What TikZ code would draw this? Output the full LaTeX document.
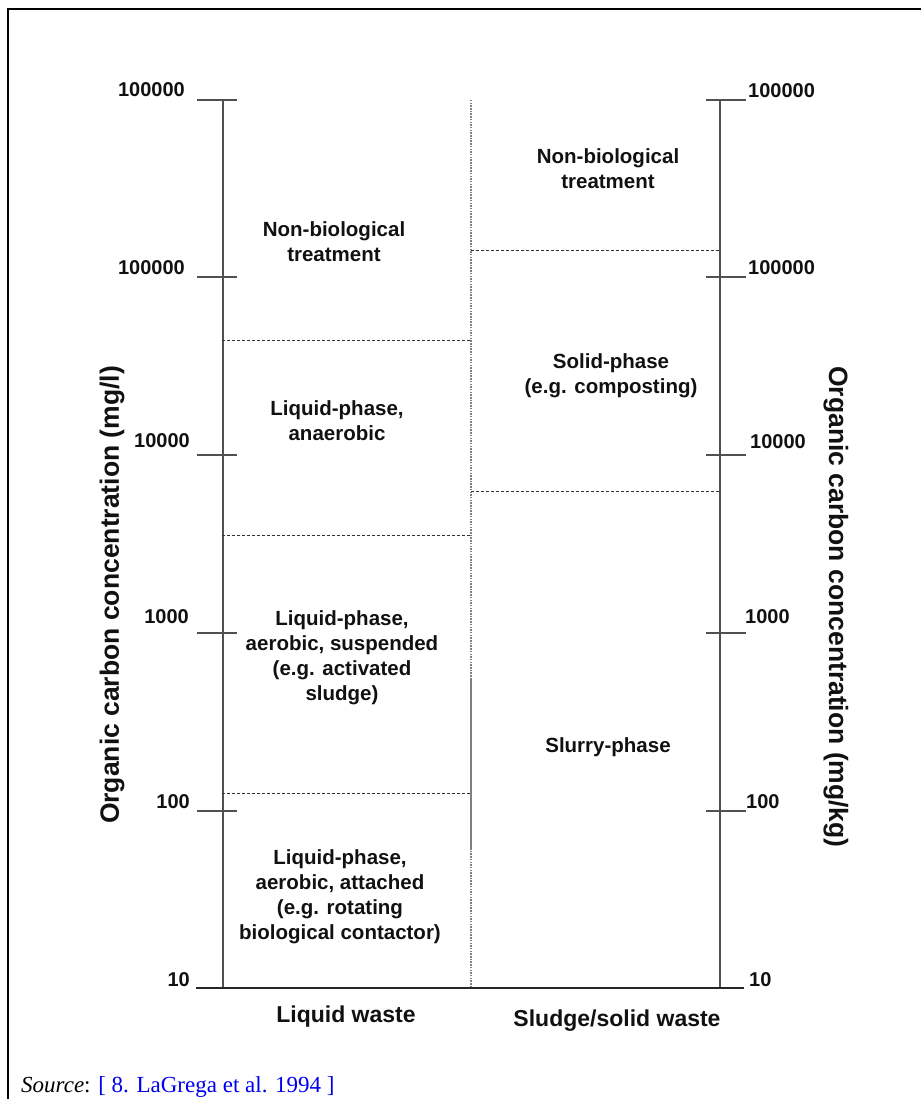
\documentclass[tikz,border=0pt]{standalone}
\usepackage{fontspec}
\setmainfont{Liberation Sans}
\newfontfamily\srcfont{Liberation Serif}
\definecolor{axisgray}{HTML}{505050}
\definecolor{txt}{HTML}{111111}
\definecolor{linkblue}{HTML}{0000EE}
\begin{document}
\begin{tikzpicture}[x=1pt,y=-1pt,
  region/.style={font=\fontsize{20.5}{25}\selectfont\bfseries, align=center, inner sep=0pt, text=txt},
  ticklbl/.style={font=\fontsize{20}{24}\selectfont\bfseries, inner sep=0pt, text=txt},
  bottomlbl/.style={font=\fontsize{23}{27}\selectfont\bfseries, inner sep=0pt, text=txt},
  axistitle/.style={font=\fontsize{26.5}{30}\selectfont\bfseries, inner sep=0pt, text=txt},
  axisline/.style={draw=axisgray, line width=1.4pt},
  tickline/.style={draw=axisgray, line width=1.3pt},
  boundary/.style={draw=black!80, line width=1pt, dash pattern=on 3pt off 2pt},
  midline/.style={draw=gray, line width=1.3pt, dash pattern=on 1.5pt off 1.2pt},
  midsolid/.style={draw=gray, line width=1.4pt},
  frameline/.style={draw=black, line width=2.2pt}
]
\useasboundingbox (0,0) rectangle (920,1099);
\fill[white] (0,0) rectangle (920,1099);

% frame (top and left edges)
\coordinate (fTL) at (8,9);
\coordinate (fTR) at (921,9);
\coordinate (fBL) at (8,1100);
\draw[frameline] (fBL) -- (fTL) -- (fTR);

% axes
\coordinate (Ltop) at (223,100);
\coordinate (Lbot) at (223,988);
\coordinate (Rtop) at (720,100);
\coordinate (Rbot) at (720,988);
\draw[axisline] (Ltop) -- (Lbot);
\draw[axisline] (Rtop) -- (Rbot);

% baseline
\coordinate (baseL) at (196,988);
\coordinate (baseR) at (744,988);
\draw[draw=black!85, line width=1.4pt] (baseL) -- (baseR);

% ticks
\foreach \y/\n in {100/a,277/b,455/c,633/d,811/e}{
  \coordinate (lt\n1) at (197,\y);
  \coordinate (lt\n2) at (237,\y);
  \coordinate (rt\n1) at (706,\y);
  \coordinate (rt\n2) at (746,\y);
  \draw[tickline] (lt\n1) -- (lt\n2);
  \draw[tickline] (rt\n1) -- (rt\n2);
}

% middle line
\coordinate (Mtop) at (471,100);
\coordinate (Ms1) at (471,678);
\coordinate (Ms2) at (471,848);
\coordinate (Mbot) at (471,988);
\draw[midline] (Mtop) -- (Ms1);
\draw[midsolid] (Ms1) -- (Ms2);
\draw[midline] (Ms2) -- (Mbot);

% boundaries left
\coordinate (b1a) at (222,340); \coordinate (b1b) at (470,340);
\coordinate (b2a) at (222,535); \coordinate (b2b) at (470,535);
\coordinate (b3a) at (222,793); \coordinate (b3b) at (470,793);
\draw[boundary] (b1a) -- (b1b);
\draw[boundary] (b2a) -- (b2b);
\draw[boundary] (b3a) -- (b3b);
% boundaries right
\coordinate (b4a) at (471,250); \coordinate (b4b) at (720,250);
\coordinate (b5a) at (471,491); \coordinate (b5b) at (720,491);
\draw[boundary] (b4a) -- (b4b);
\draw[boundary] (b5a) -- (b5b);

% left tick labels
\node[ticklbl, anchor=east] (ll1) at (185,90) {100000};
\node[ticklbl, anchor=east] (ll2) at (185,268) {100000};
\node[ticklbl, anchor=east] (ll3) at (190,441) {10000};
\node[ticklbl, anchor=east] (ll4) at (189,617) {1000};
\node[ticklbl, anchor=east] (ll5) at (190,802) {100};
\node[ticklbl, anchor=east] (ll6) at (190,980) {10};
% right tick labels
\node[ticklbl, anchor=west] (rl1) at (748,91) {100000};
\node[ticklbl, anchor=west] (rl2) at (748,268) {100000};
\node[ticklbl, anchor=west] (rl3) at (750,442) {10000};
\node[ticklbl, anchor=west] (rl4) at (745,617) {1000};
\node[ticklbl, anchor=west] (rl5) at (746,802) {100};
\node[ticklbl, anchor=west] (rl6) at (749,980) {10};

% region labels
\node[region] (nbL) at (334,242) {Non-biological\\treatment};
\node[region] (anaer) at (337,421) {Liquid-phase,\\anaerobic};
\node[region] (susp) at (342,658) {Liquid-phase,\\aerobic, suspended\\(e.g. activated\\sludge)};
\node[region] (att) at (340,897) {Liquid-phase,\\aerobic, attached\\(e.g. rotating\\biological contactor)};
\node[region] (nbR) at (608,169) {Non-biological\\treatment};
\node[region] (solid) at (611,376) {Solid-phase\\(e.g. composting)};
\node[region] (slurry) at (608,747) {Slurry-phase};

% bottom labels
\node[bottomlbl] (liq) at (346,1017) {Liquid waste};
\node[bottomlbl] (sludge) at (617,1021) {Sludge/solid waste};

% axis titles
\node[axistitle, rotate=90] (ytL) at (112,595) {Organic carbon concentration (mg/l)};
\node[axistitle, rotate=-90] (ytR) at (836,607) {Organic carbon concentration (mg/kg)};

% source
\node[anchor=base west, inner sep=0pt, font=\srcfont\fontsize{23}{27}\selectfont] (src) at (21,1092)
  {\textit{Source}: \textcolor{linkblue}{[ 8. LaGrega et al. 1994 ]}};
\end{tikzpicture}
\end{document}
